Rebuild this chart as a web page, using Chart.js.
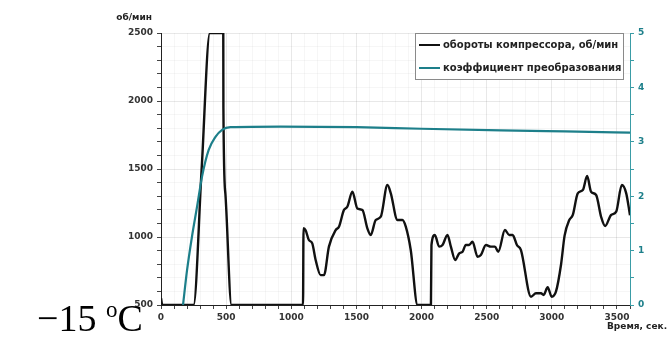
<!DOCTYPE html>
<html>
<head>
<meta charset="utf-8">
<script src="https://cdn.jsdelivr.net/npm/chart.js@4/dist/chart.umd.min.js"></script>
<style>
  body { margin: 0; background: #fff; }
  #wrap { position: relative; width: 669px; height: 340px; }
  #temp {
    position: absolute; left: 37px; top: 298px;
    font-family: 'Liberation Serif', 'Times New Roman', serif;
    font-size: 38px; line-height: 40px; color: #000; white-space: nowrap;
  }
  #temp sup { font-size: 23px; vertical-align: 0; position: relative; top: -14px; }
</style>
</head>
<body>
<div id="wrap">
  <canvas id="chart" width="669" height="340"></canvas>
  <div id="temp">&minus;15 <sup>o</sup>C</div>
</div>
<script>
// compressor speed, rpm
const rpmTime = [0, 10, 250, 312, 375, 478, 479, 494, 541, 1090, 1094, 1110, 1135, 1161, 1187, 1225, 1251,
  1289, 1341, 1366, 1404, 1430, 1469, 1507, 1546, 1584, 1610, 1648, 1687, 1738, 1764, 1815, 1853,
  1879, 1917, 1969, 2072, 2076, 2102, 2135, 2161, 2199, 2225, 2258, 2289, 2315, 2340, 2365, 2391,
  2430, 2455, 2494, 2532, 2563, 2589, 2640, 2673, 2699, 2732, 2763, 2840, 2878, 2917, 2937, 2968,
  2999, 3032, 3071, 3098, 3134, 3161, 3199, 3238, 3271, 3301, 3340, 3378, 3409, 3455, 3494, 3537,
  3571, 3600];
const rpmValues = [550, 500, 500, 1500, 2500, 2500, 1950, 1320, 500, 500, 1064, 1050, 978, 953, 831, 720, 720,
  929, 1051, 1075, 1198, 1222, 1333, 1210, 1198, 1064, 1015, 1125, 1149, 1382, 1321, 1125, 1125,
  1076, 904, 500, 500, 941, 1015, 929, 941, 1015, 929, 831, 880, 892, 941, 941, 965,
  855, 867, 941, 929, 929, 892, 1051, 1015, 1015, 941, 904, 561, 586, 586, 574, 630,
  561, 600, 800, 1010, 1125, 1162, 1321, 1345, 1448, 1333, 1309, 1149, 1081, 1162, 1186, 1382,
  1321, 1160];

// conversion coefficient
const copTime = [169, 200, 238, 277, 315, 366, 418, 469, 533, 918, 1500, 2000, 2610, 3100, 3600];
const copValues = [0, 0.64, 1.26, 1.81, 2.36, 2.85, 3.09, 3.22, 3.27, 3.28, 3.27, 3.24, 3.21, 3.19, 3.17];

const seriesLabels = ['обороты компрессора, об/мин', 'коэффициент преобразования'];
const rpmAxisTitle = 'об/мин';
const timeAxisTitle = 'Время, сек.';

const TEAL = '#1d7f8a';
const TEAL_AXIS = '#3a9ca6';
const tickFont = { family: 'DejaVu Sans', size: 9, weight: 'bold' };

const toPoints = (xs, ys) => xs.map((x, i) => ({ x: x, y: ys[i] }));

const gridColor = ctx => (ctx.tick && ctx.tick.value % 500 === 0) ? 'rgba(0,0,0,0.09)' : 'rgba(0,0,0,0.035)';

const extras = {
  id: 'extras',
  afterDraw(chart) {
    const c = chart.ctx;
    c.save();
    c.font = 'bold 9px "DejaVu Sans"';
    c.fillStyle = '#222';
    c.textBaseline = 'middle';
    c.textAlign = 'right';
    c.fillText(rpmAxisTitle, 152, 18);
    c.textAlign = 'left';
    c.fillText(timeAxisTitle, 607, 327);

    // legend box inside the plot
    const bx = 415, by = 33, bw = 208, bh = 46;
    c.fillStyle = '#fff';
    c.fillRect(bx, by, bw, bh);
    c.strokeStyle = '#8a8a8a';
    c.lineWidth = 1;
    c.strokeRect(bx + 0.5, by + 0.5, bw, bh);
    const colors = ['#111', TEAL];
    const rows = [45, 68];
    rows.forEach((y, i) => {
      c.strokeStyle = colors[i];
      c.lineWidth = 2;
      c.beginPath();
      c.moveTo(419, y);
      c.lineTo(440, y);
      c.stroke();
      c.fillStyle = '#222';
      c.font = 'bold 10px "DejaVu Sans"';
      c.fillText(seriesLabels[i], 443, y);
    });
    c.restore();
  }
};

new Chart(document.getElementById('chart').getContext('2d'), {
  type: 'line',
  data: {
    datasets: [
      {
        label: seriesLabels[0],
        data: toPoints(rpmTime, rpmValues),
        yAxisID: 'y',
        borderColor: '#111',
        borderWidth: 2.4,
        pointRadius: 0,
        cubicInterpolationMode: 'monotone',
        order: 2
      },
      {
        label: seriesLabels[1],
        data: toPoints(copTime, copValues),
        yAxisID: 'y1',
        borderColor: TEAL,
        borderWidth: 2.2,
        pointRadius: 0,
        cubicInterpolationMode: 'monotone',
        order: 1
      }
    ]
  },
  options: {
    responsive: false,
    animation: false,
    layout: { padding: { top: 33, left: 0, right: 0, bottom: 0 } },
    plugins: {
      legend: { display: false },
      tooltip: { enabled: false }
    },
    scales: {
      x: {
        type: 'linear',
        min: 0,
        max: 3600,
        afterFit: s => { s.height = 35; },
        border: { color: '#222', width: 1 },
        grid: { color: gridColor, tickColor: '#444', tickLength: 4 },
        ticks: {
          stepSize: 100,
          autoSkip: false,
          maxRotation: 0,
          padding: 3,
          color: '#333',
          font: tickFont,
          callback: v => v % 500 === 0 ? v : ''
        }
      },
      y: {
        position: 'left',
        min: 500,
        max: 2500,
        afterFit: s => { s.width = 161; },
        border: { color: '#222', width: 1 },
        grid: { color: gridColor, tickColor: '#444', tickLength: 4 },
        ticks: {
          stepSize: 100,
          autoSkip: false,
          padding: 4,
          color: '#333',
          font: tickFont,
          callback: v => v % 500 === 0 ? v : ''
        }
      },
      y1: {
        position: 'right',
        min: 0,
        max: 5,
        afterFit: s => { s.width = 39; },
        border: { color: TEAL_AXIS, width: 1 },
        grid: { drawOnChartArea: false, tickColor: TEAL_AXIS, tickLength: 4 },
        ticks: {
          stepSize: 0.5,
          autoSkip: false,
          padding: 4,
          color: TEAL,
          font: tickFont,
          callback: v => Number.isInteger(v) ? v : ''
        }
      }
    }
  },
  plugins: [extras]
});
</script>
</body>
</html>
